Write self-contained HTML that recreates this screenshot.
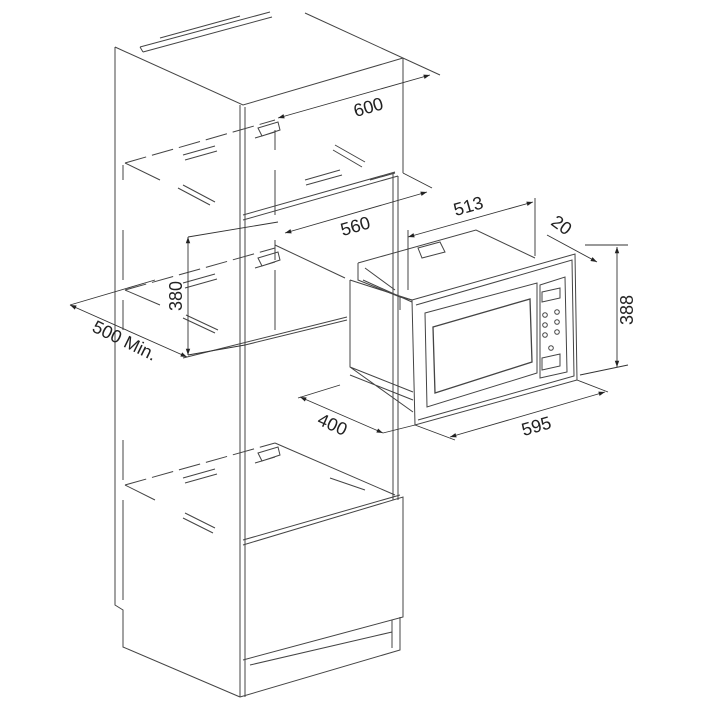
<!DOCTYPE html>
<html><head><meta charset="utf-8"><style>
html,body{margin:0;padding:0;background:#fff;}
svg{display:block}
text{font-family:"Liberation Sans",sans-serif;font-size:18px;fill:#222}
</style></head><body>
<svg width="720" height="720" viewBox="0 0 720 720" xmlns="http://www.w3.org/2000/svg">
<defs>
<marker id="a" viewBox="0 0 10 10" refX="10" refY="5" markerWidth="10" markerHeight="7" orient="auto-start-reverse"><path d="M0,1.5 L10,5 L0,8.5 z" fill="#222"/></marker>
</defs>
<g stroke="#444" stroke-width="1" fill="none">
<!-- cabinet top -->
<path d="M115,47 L243,105 L403,58"/>
<path d="M115,47 L115,605 L123,610 L123,647 L240,697"/>
<path d="M240,105 L240,697 M245,107 L245,697"/>
<path d="M403,58 L403,173"/>
<path d="M305,13 L440,75"/>
<!-- top rail -->
<path d="M140,47 L270,12 M143,52 L272,17 M140,47 L143,52 M160,38 L240,16"/>
<!-- interior -->
<path d="M243,220 L398,176 M243,215 L395,172"/>
<path d="M393,173 L393,500 M398,176 L398,500"/>
<path d="M275,130 L275,150 M275,170 L275,215 M275,240 L275,260 M275,270 L275,330"/>
<path d="M123,165 L123,180 M123,230 L123,280 M123,300 L123,330 M123,440 L123,480 M123,500 L123,600"/>
<!-- upper shelf -->
<path d="M125,163 L275,120" stroke-dasharray="22,6"/>
<path d="M125,163 L160,180"/>
<path d="M258,128 L278,122 L280,130 L262,136 Z M255,138 L275,132"/>
<path d="M183,155 L215,146 M185,160 L217,151"/>
<path d="M178,188 L210,205 M183,185 L215,202"/>
<path d="M335,145 L365,162 M333,150 L362,167"/>
<path d="M305,180 L340,170 M306,185 L342,175 M370,180 L395,173"/>
<!-- mid shelf -->
<path d="M125,290 L275,248" stroke-dasharray="22,6"/>
<path d="M125,290 L160,305 M275,245 L345,278"/>
<path d="M258,258 L278,252 L280,260 L262,266 Z M255,268 L275,262"/>
<path d="M183,283 L215,274 M185,288 L217,279"/>
<path d="M183,318 L215,333 M186,315 L218,330"/>
<path d="M183,358 L347,317 M245,345 L347,320"/>
<!-- lower shelf -->
<path d="M125,485 L275,443" stroke-dasharray="22,6"/>
<path d="M125,485 L155,500 M275,443 L395,495"/>
<path d="M258,453 L278,447 L280,455 L262,461 Z M255,463 L275,457"/>
<path d="M183,478 L215,469 M185,483 L217,474"/>
<path d="M185,513 L215,528 M183,518 L213,533"/>
<path d="M330,478 L365,490"/>
<!-- drawer -->
<path d="M243,545 L403,497 L403,617 L243,660 M243,540 L400,495"/>
<path d="M400,617 L400,650 L240,697 M250,665 L392,632 M392,620 L392,648"/>
<!-- microwave body -->
<path d="M358,263 L358,280 L400,297 L400,310 M358,263 L476,230 L535,258 M400,297 L412,300"/>
<path d="M365,268 L395,290 M363,280 L412,302"/>
<path d="M418,248 L440,242 L445,252 L422,258 Z"/>
<path d="M350,280 L350,367 L413,412 M350,280 L412,300 M350,367 L413,392 M350,375 L413,400"/>
<path d="M412,300 L575,254 L577,380 L415,425 Z"/>
<path d="M416,305 L572,260 L574,376 L418,420"/>
<path d="M425,313 L537,283 L537,373 L427,407 Z"/>
<path d="M433,327 L530,299 L532,362 L435,393 Z" stroke-width="1.3"/>
<path d="M540,285 L565,277 L567,372 L540,378 Z"/>
<path d="M542,292 L560,288 L560,298 L542,302 Z M542,358 L560,354 L560,366 L542,370 Z"/>
<circle cx="545" cy="315" r="2.3"/><circle cx="557" cy="312" r="2.3"/>
<circle cx="545" cy="325" r="2.3"/><circle cx="557" cy="322" r="2.3"/>
<circle cx="545" cy="335" r="2.3"/><circle cx="557" cy="332" r="2.3"/>
<circle cx="551" cy="348" r="2.3"/>
</g>
<!-- dimension lines -->
<g stroke="#333" stroke-width="0.9" fill="none">
<path d="M278,118 L430,75" marker-start="url(#a)" marker-end="url(#a)"/>
<path d="M285,233 L427,192" marker-start="url(#a)" marker-end="url(#a)"/>
<path d="M403,173 L432,188"/>
<path d="M408,237 L533,202" marker-start="url(#a)" marker-end="url(#a)"/>
<path d="M408,230 L408,290 M535,198 L535,256"/>
<path d="M547,235 L597,262" marker-end="url(#a)"/>
<path d="M585,245 L628,245 M580,375 L628,365"/>
<path d="M617,247 L617,367" marker-start="url(#a)" marker-end="url(#a)"/>
<path d="M415,425 L455,440 M577,380 L608,392"/>
<path d="M450,437 L605,392" marker-start="url(#a)" marker-end="url(#a)"/>
<path d="M298,398 L340,385 M383,433 L415,425"/>
<path d="M300,397 L383,433" marker-start="url(#a)" marker-end="url(#a)"/>
<path d="M188,237 L278,222 M188,355 L245,345"/>
<path d="M188,237 L188,355" marker-start="url(#a)" marker-end="url(#a)"/>
<path d="M70,305 L155,280"/>
<path d="M70,305 L187,357" marker-start="url(#a)" marker-end="url(#a)"/>
</g>
<text transform="translate(370,113) rotate(-16)" text-anchor="middle">600</text>
<text transform="translate(357,232) rotate(-16)" text-anchor="middle">560</text>
<text transform="translate(470,212) rotate(-16)" text-anchor="middle">513</text>
<text transform="translate(558,230) rotate(36)" text-anchor="middle">20</text>
<text transform="translate(633,310) rotate(-90)" text-anchor="middle">388</text>
<text transform="translate(538,432) rotate(-16)" text-anchor="middle">595</text>
<text transform="translate(330,430) rotate(24)" text-anchor="middle">400</text>
<text transform="translate(182,296) rotate(-90)" text-anchor="middle">380</text>
<text transform="translate(122,346) rotate(26)" text-anchor="middle">500 Min.</text>
</svg>
</body></html>
